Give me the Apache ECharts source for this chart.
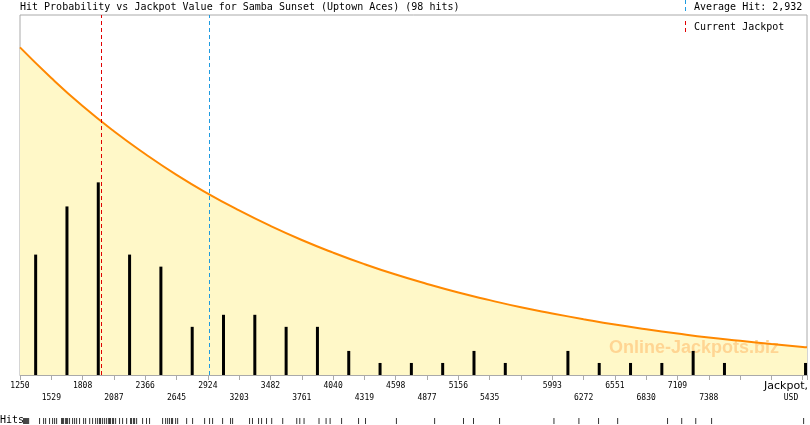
<!DOCTYPE html>
<html><head><meta charset="utf-8">
<script src="https://cdn.jsdelivr.net/npm/echarts@6/dist/echarts.min.js"></script>
<style>html,body{margin:0;padding:0;background:#fff}#c{width:810px;height:425px}</style>
</head><body><div id="c"></div>
<script>
const TITLE = 'Hit Probability vs Jackpot Value for Samba Sunset (Uptown Aces) (98 hits)';
const BASE = 1250, STEP = 279, AXIS_END = 8263;
const AVERAGE_HIT = 2932, CURRENT_JACKPOT = 1976;
const topRowLabels = ['1250','1808','2366','2924','3482','4040','4598','5156','5993','6551','7109'];
const bottomRowLabels = ['1529','2087','2645','3203','3761','4319','4877','5435','6272','6830','7388'];

// histogram bars: bin centre (USD) and number of hits
const barCenters = [1389.5,1668.5,1947.5,2226.5,2505.5,2784.5,3063.5,3342.5,3621.5,3900.5,4179.5,4458.5,4737.5,5016.5,5295.5,5574.5,6132.5,6411.5,6690.5,6969.5,7248.5,7527.5,8250];
const barCounts  = [10,14,16,10,9,4,5,5,4,4,2,1,1,1,2,1,2,1,1,1,2,1,1];

// probability curve (percent of plot height)
const curveX = [1250,1529,1808,2087,2366,2645,2924,3203,3482,3761,4040,4319,4598,4877,5156,5435,5714,5993,6272,6551,6830,7109,7388,7667,7946,8225,8263];
const curveY = [91.0,82.5,74.7,67.7,61.4,55.6,50.4,45.7,41.4,37.5,34.0,30.8,27.9,25.3,22.9,20.8,18.8,17.1,15.5,14.0,12.7,11.5,10.4,9.5,8.6,7.8,7.7];

// individual hits (rug)
const hitValues = [1282,1291,1300,1309,1318,1327,1424,1460,1478,1513,
 1540,1558,1576,1620,1629,1638,1656,1665,1674,1691,1718,1736,1754,1780,
 1816,1834,1870,1896,1923,1941,1958,1967,1985,2003,2021,2039,2047,2056,2074,2083,
 2101,2136,2163,2199,2234,2243,2261,2270,2288,2341,
 2376,2403,2519,2546,2564,2581,2599,2608,2635,
 2653,2733,2786,2893,
 2937,2964,3053,3124,3142,
 3293,3319,3373,3400,3444,
 3490,3588,3713,3740,
 3778,3911,3974,4010,
 4112,4263,4325,4600,4940,5197,5286,5518,
 6002,6224,6399,6569,7013,7139,7264,7405,8224];

const RED = '#E00000', BLUE = '#1E9BE0';
const chart = echarts.init(document.getElementById('c'), null, {renderer:'canvas'});
const AXMAX = AXIS_END - BASE;
const labelFont = {fontFamily:'DejaVu Sans Mono', fontSize:8, color:'#000', lineHeight:10};
const curveData = curveX.map((x,i)=>[x-BASE, curveY[i]]);

function dashes(x, y0, y1, color){
  const out=[]; for(let y=y0;y<y1;y+=7){ out.push({type:'rect', z:10, shape:{x:x, y:y, width:1, height:Math.min(4,y1-y)}, style:{fill:color}}); }
  return out;
}
function vline(value, color){
  return {type:'line', xAxisIndex:0, yAxisIndex:1, data:[], z:5,
    markLine:{silent:true, symbol:['none','none'], label:{show:false},
      lineStyle:{color:color, type:[4,3], width:1, opacity:1},
      emphasis:{disabled:true},
      data:[{xAxis:value-BASE}]}};
}

chart.setOption({
  animation:false,
  grid:[
    {left:20, right:2, top:15, bottom:50, show:true, borderColor:'#aaa', borderWidth:1, backgroundColor:'transparent'},
    {left:20, right:2, top:418, height:6}
  ],
  xAxis:[
    {gridIndex:0, type:'value', min:0, max:AXMAX, interval:STEP, position:'bottom',
     axisLine:{show:true, lineStyle:{color:'#aaa'}},
     axisTick:{show:true, length:5, lineStyle:{color:'#aaa'}},
     splitLine:{show:false},
     axisLabel:Object.assign({margin:6, showMinLabel:true, showMaxLabel:true, hideOverlap:false,
       formatter:v=>{const s=String(Math.round(v+BASE)); return topRowLabels.includes(s)?s:'';}}, labelFont)},
    {gridIndex:0, type:'value', min:0, max:AXMAX, interval:STEP, position:'bottom',
     axisLine:{show:false}, axisTick:{show:false}, splitLine:{show:false},
     axisLabel:Object.assign({margin:18, showMinLabel:true, showMaxLabel:true, hideOverlap:false,
       formatter:v=>{const s=String(Math.round(v+BASE)); return bottomRowLabels.includes(s)?s:'';}}, labelFont)},
    {gridIndex:1, type:'value', min:0, max:AXMAX, show:false}
  ],
  yAxis:[
    {gridIndex:0, type:'value', min:0, max:29.9, show:false},
    {gridIndex:0, type:'value', min:0, max:100, show:false},
    {gridIndex:1, type:'value', min:0, max:1, show:false}
  ],
  series:[
    {type:'line', xAxisIndex:0, yAxisIndex:1, data:curveData, smooth:true, symbol:'none', z:1,
     lineStyle:{width:0}, areaStyle:{color:'#FFF8C8', opacity:1}, silent:true},
    {type:'bar', xAxisIndex:0, yAxisIndex:0, z:3, barWidth:3,
     data:barCenters.map((c,i)=>[c-BASE, barCounts[i]]), itemStyle:{color:'#000'}},
    {type:'line', xAxisIndex:0, yAxisIndex:1, data:curveData, smooth:true, symbol:'none', z:4,
     lineStyle:{color:'#FF8800', width:2}},
    vline(CURRENT_JACKPOT, RED),
    vline(AVERAGE_HIT, BLUE),
    {type:'scatter', xAxisIndex:2, yAxisIndex:2, symbol:'rect', symbolSize:[1,6],
     data:hitValues.map(v=>[v-BASE,0.5]), itemStyle:{color:'#000'}}
  ],
  graphic:[
    {type:'text', x:20, y:7, z:10, style:{text:TITLE, font:'10px "DejaVu Sans Mono"', fill:'#000', verticalAlign:'middle'}},
    ...dashes(685, 0, 13, BLUE),
    {type:'text', x:694, y:7, z:10, style:{text:'Average Hit: 2,932', font:'10px "DejaVu Sans Mono"', fill:'#000', verticalAlign:'middle'}},
    ...dashes(685, 21, 34, RED),
    {type:'text', x:694, y:27, z:10, style:{text:'Current Jackpot', font:'10px "DejaVu Sans Mono"', fill:'#000', verticalAlign:'middle'}},
    {type:'text', x:609, y:348, z:2, style:{text:'Online-Jackpots.biz', font:'bold 18px "Liberation Sans"', fill:'#FFD593', verticalAlign:'middle'}},
    {type:'text', x:808, y:386, z:10, style:{text:'Jackpot,', font:'11px "DejaVu Sans"', fill:'#000', align:'right', verticalAlign:'middle'}},
    {type:'text', x:791, y:398, z:10, style:{text:'USD', font:'8px "DejaVu Sans Mono"', fill:'#000', align:'center', verticalAlign:'middle'}},
    {type:'text', x:0, y:420, z:10, style:{text:'Hits', font:'10px "DejaVu Sans Mono"', fill:'#000', verticalAlign:'middle'}}
  ]
});
</script></body></html>
